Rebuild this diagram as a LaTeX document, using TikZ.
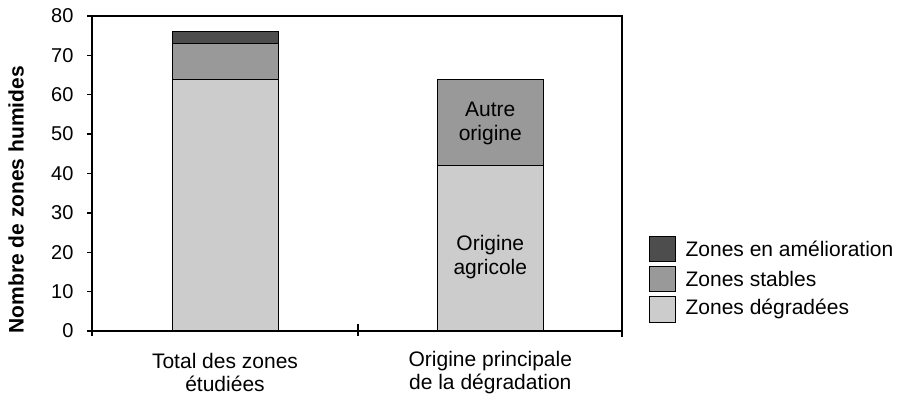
\documentclass[tikz,border=0pt]{standalone}
\usepackage{fontspec}
\setmainfont{Liberation Sans}
\usetikzlibrary{positioning}
\definecolor{amelio}{HTML}{4D4D4D}
\definecolor{stable}{HTML}{999999}
\definecolor{degrade}{HTML}{CCCCCC}
\tikzset {
  every node/.style={font=\fontsize{21}{24}\selectfont},
  bar/.style={draw=black,line width=0.8pt},
  frame/.style={line width=1.4pt},
  legbox/.style={draw=black,line width=0.8pt,minimum width=26pt,minimum height=25.5pt,inner sep=0pt},
}

\begin{document}
\begin{tikzpicture}[x=1pt,y=3.9375pt]
          \useasboundingbox (-92,-16.25) rectangle (809,84.06);
          % bars
          \filldraw[bar,fill=degrade] (80,0) rectangle (186,64);
          \filldraw[bar,fill=stable] (80,64) rectangle (186,73);
          \filldraw[bar,fill=amelio] (80,73) rectangle (186,76);
          \filldraw[bar,fill=degrade] (345.7,0) rectangle (451,42);
          \filldraw[bar,fill=stable] (345.7,42) rectangle (451,64);
          \node[align=center] (agri) at (398.3,18.8) {Origine\\agricole};
          \node[align=center] (autre) at (398.3,52.8) {Autre\\origine};
          % frame and axes
          \coordinate (o) at (0,0);
          \coordinate (tl) at (0,80);
          \coordinate (tr) at (530,80);
          \coordinate (br) at (530,0);
          \draw[frame] (tl) -- (tr) -- (br);
          \draw[frame] (tl) -- (o) -- (br);
          \foreach \v in {0,10,...,80} {
            \draw[frame] (-5,\v) -- (0,\v);
            \node at (-15,\v)[left,font=\fontsize{20}{24}\selectfont]{\v};
          }
          \draw[frame] (0,0) -- (0,-1.3);
          \draw[frame] (266,1.8) -- (266,-1.3);
          \draw[frame] (530,0) -- (530,-1.4);
          \node[rotate=90,font=\fontsize{21}{24}\selectfont\bfseries] (ylab) at (-76,33.3) {Nombre de zones humides};
          \node[align=center,font=\fontsize{21}{23}\selectfont] (cat1) at (133,-10.5) {Total des zones\\étudiées};
          \node[align=center,font=\fontsize{21}{23}\selectfont] (cat2) at (398.3,-10.5) {Origine principale\\de la dégradation};
          % legend
          \node[legbox,fill=amelio] (l1) at (570,20.9) {};
          \node[legbox,fill=stable,below=4pt of l1] (l2) {};
          \node[legbox,fill=degrade,below=4pt of l2] (l3) {};
          \node[right=10pt of l1,inner sep=0pt] {Zones en amélioration};
          \node[right=10pt of l2,inner sep=0pt] {Zones stables};
          \node[right=10pt of l3,inner sep=0pt] {Zones dégradées};
        \end{tikzpicture}
\end{document}
